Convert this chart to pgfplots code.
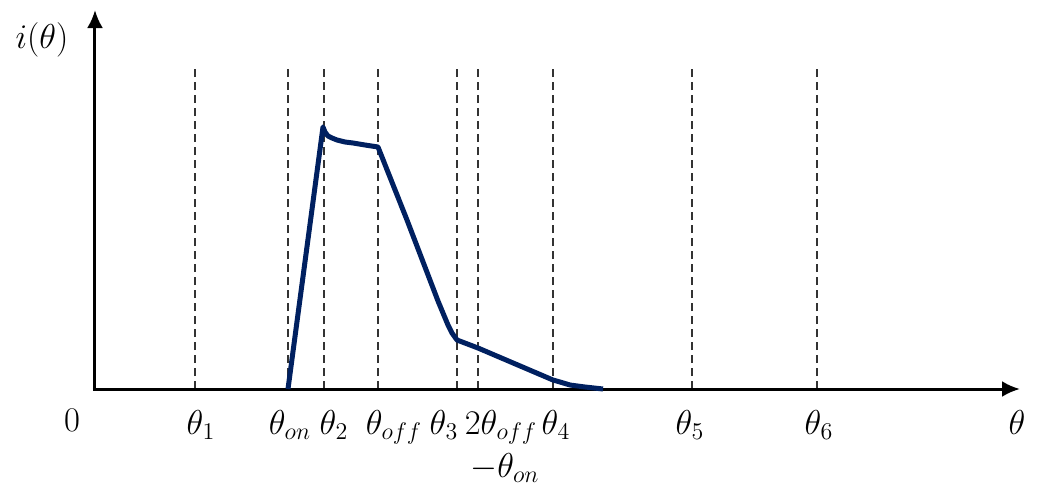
\documentclass[border=0pt]{standalone}
\usepackage{pgfplots}
\pgfplotsset{compat=1.18}
\usetikzlibrary{arrows.meta}
\definecolor{navy}{HTML}{002060}
\begin{document}
\fontsize{17.28}{20}\selectfont
\begin{tikzpicture}
\begin{axis}[name=a, scale only axis, width=462.5pt, height=189.5pt,
  xmin=95, xmax=1020, ymin=0, ymax=379, axis lines=none, clip=false]
\coordinate (BL) at (axis cs:0,-95);
\coordinate (TR) at (axis cs:1040,389);
\pgfplotsinvokeforeach{195,288,324,378,457,478,553,692,817}{
  \addplot[black!80, line width=0.6pt, dash pattern=on 4pt off 2.5pt] coordinates {(#1,0) (#1,322)};
}
\draw[line width=1.5pt, -{Latex[length=9pt,width=8pt]}] (axis cs:93,0) -- (axis cs:1020,0);
\draw[line width=1.5pt, -{Latex[length=9pt,width=8pt]}] (axis cs:95,0) -- (axis cs:95,379);
\addplot[navy, line width=2.5pt, line join=round] coordinates {
 (288,0) (323,262) (325,257) (328,253) (332,251) (337,249) (345,247) (353,246) (365,244) (378,242)
 (407,169) (438,88) (443,76) (448,64) (452,56) (457,49) (478,41) (553,9) (560,7) (570,4) (585,2) (603,0)
};
\node at (axis cs:42,349) {$i(\theta)$};
\node at (axis cs:72,-31) {$0$};
\node at (axis cs:1017,-33) {$\theta$};
\begin{scope}[every node/.style={anchor=base, inner sep=0.5pt}]
\node at (axis cs:201,-45) {$\theta_1$};
\node at (axis cs:290,-45) {$\theta_{on}$};
\node at (axis cs:334,-45) {$\theta_2$};
\node at (axis cs:394,-45) {$\theta_{off}$};
\node at (axis cs:444,-45) {$\theta_3$};
\node at (axis cs:501,-45) {$2\theta_{off}$};
\node at (axis cs:505,-88) {$-\theta_{on}$};
\node at (axis cs:556,-45) {$\theta_4$};
\node at (axis cs:690,-45) {$\theta_5$};
\node at (axis cs:819,-45) {$\theta_6$};
\end{scope}
\end{axis}
\pgfresetboundingbox
\path (BL) rectangle (TR);
\end{tikzpicture}
\end{document}
